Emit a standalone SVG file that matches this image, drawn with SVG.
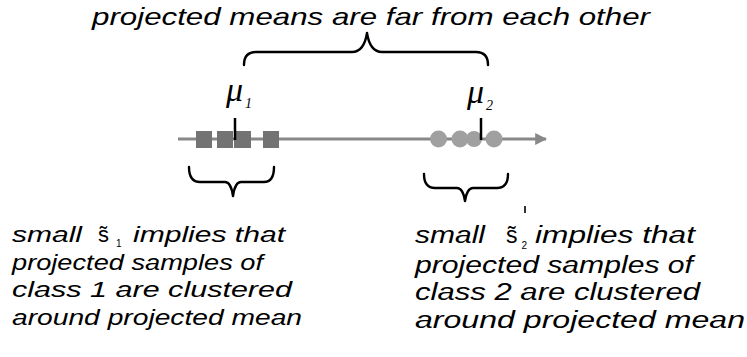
<svg xmlns="http://www.w3.org/2000/svg" width="747" height="357" viewBox="0 0 747 357">
<style>
.t{font-family:"Liberation Sans",Arial,sans-serif;font-style:italic;fill:#000}
.s{font-family:"Liberation Sans",Arial,sans-serif;fill:#000}
.mu{font-family:"Liberation Serif","Times New Roman",serif;font-style:italic;fill:#000}
.br{fill:none;stroke:#000;stroke-width:2.4;stroke-linejoin:round;stroke-linecap:round}
.sq{fill:#737373}
.ci{fill:#a0a0a0}
.tick{stroke:#000;stroke-width:2.5}
</style>
<defs>
<marker id="ah" viewBox="0 0 10 10" refX="9" refY="5" markerWidth="4" markerHeight="4" orient="auto" markerUnits="strokeWidth">
<path d="M0,0 L10,5 L0,10 Z" fill="#888"/>
</marker>
</defs>
<rect width="747" height="357" fill="#fff"/>

<g id="title">
<text class="t" x="92" y="25" font-size="24" textLength="558" lengthAdjust="spacingAndGlyphs">projected means are far from each other</text>
</g>

<g id="brace-top">
<path class="br" d="M244,65 Q244,52 256,52 L352,52 Q364,52 367,33 Q370,52 382,52 L476,52 Q488,52 488,65"/>
</g>

<g id="connectors">
<line x1="178" y1="139" x2="546" y2="139" stroke="#888" stroke-width="3" marker-end="url(#ah)"/>
</g>

<g id="class1-samples">
<rect class="sq" x="196" y="131" width="16" height="17"/>
<rect class="sq" x="217" y="131" width="16" height="17"/>
<rect class="sq" x="234" y="131" width="17" height="17"/>
<rect class="sq" x="263" y="131" width="16" height="17"/>
<line class="tick" x1="235" y1="118" x2="235" y2="140"/>
</g>

<g id="class2-samples">
<circle class="ci" cx="438.5" cy="139" r="8.5"/>
<circle class="ci" cx="460" cy="139" r="8.5"/>
<circle class="ci" cx="474" cy="139" r="8"/>
<circle class="ci" cx="494" cy="139" r="8.5"/>
<line class="tick" x1="481" y1="118" x2="481" y2="140"/>
</g>

<g id="mu1">
<text class="mu" x="226" y="101" font-size="34">μ<tspan font-size="14" dx="2" dy="7">1</tspan></text>
</g>
<g id="mu2">
<text class="mu" x="467" y="103" font-size="34">μ<tspan font-size="14" dx="2" dy="7">2</tspan></text>
</g>

<g id="brace-left">
<path class="br" d="M189,167 Q189,182 200,182 L225,182 Q231,182 233,196 Q235,182 241,182 L264,182 Q274,182 274,167"/>
</g>
<g id="brace-right">
<path class="br" d="M424,174 Q424,188 435,188 L457,188 Q463,188 465,201 Q467,188 473,188 L497,188 Q508,188 508,174"/>
</g>

<g id="text-left">
<text class="t" x="12" y="242" font-size="22" textLength="70" lengthAdjust="spacingAndGlyphs">small</text>
<text class="s" x="98" y="242" font-size="22">s̃<tspan font-size="10" dx="7" dy="5">1</tspan></text>
<text class="t" x="133" y="242" font-size="22" textLength="152" lengthAdjust="spacingAndGlyphs">implies that</text>
<text class="t" x="12" y="270" font-size="22" textLength="251" lengthAdjust="spacingAndGlyphs">projected samples of</text>
<text class="t" x="12" y="297" font-size="22" textLength="280" lengthAdjust="spacingAndGlyphs">class 1 are clustered</text>
<text class="t" x="12" y="325" font-size="22" textLength="290" lengthAdjust="spacingAndGlyphs">around projected mean</text>
</g>

<g id="text-right">
<text class="t" x="415" y="243" font-size="23" textLength="70" lengthAdjust="spacingAndGlyphs">small</text>
<text class="s" x="506" y="243" font-size="23">s̃<tspan font-size="10" dx="4" dy="6">2</tspan></text>
<text class="t" x="535" y="243" font-size="23" textLength="160" lengthAdjust="spacingAndGlyphs">implies that</text>
<text class="t" x="415" y="273" font-size="23" textLength="278" lengthAdjust="spacingAndGlyphs">projected samples of</text>
<text class="t" x="415" y="300" font-size="23" textLength="285" lengthAdjust="spacingAndGlyphs">class 2 are clustered</text>
<text class="t" x="415" y="328" font-size="23" textLength="330" lengthAdjust="spacingAndGlyphs">around projected mean</text>
</g>
<line x1="525" y1="206" x2="525" y2="213" stroke="#333" stroke-width="2"/>
</svg>
